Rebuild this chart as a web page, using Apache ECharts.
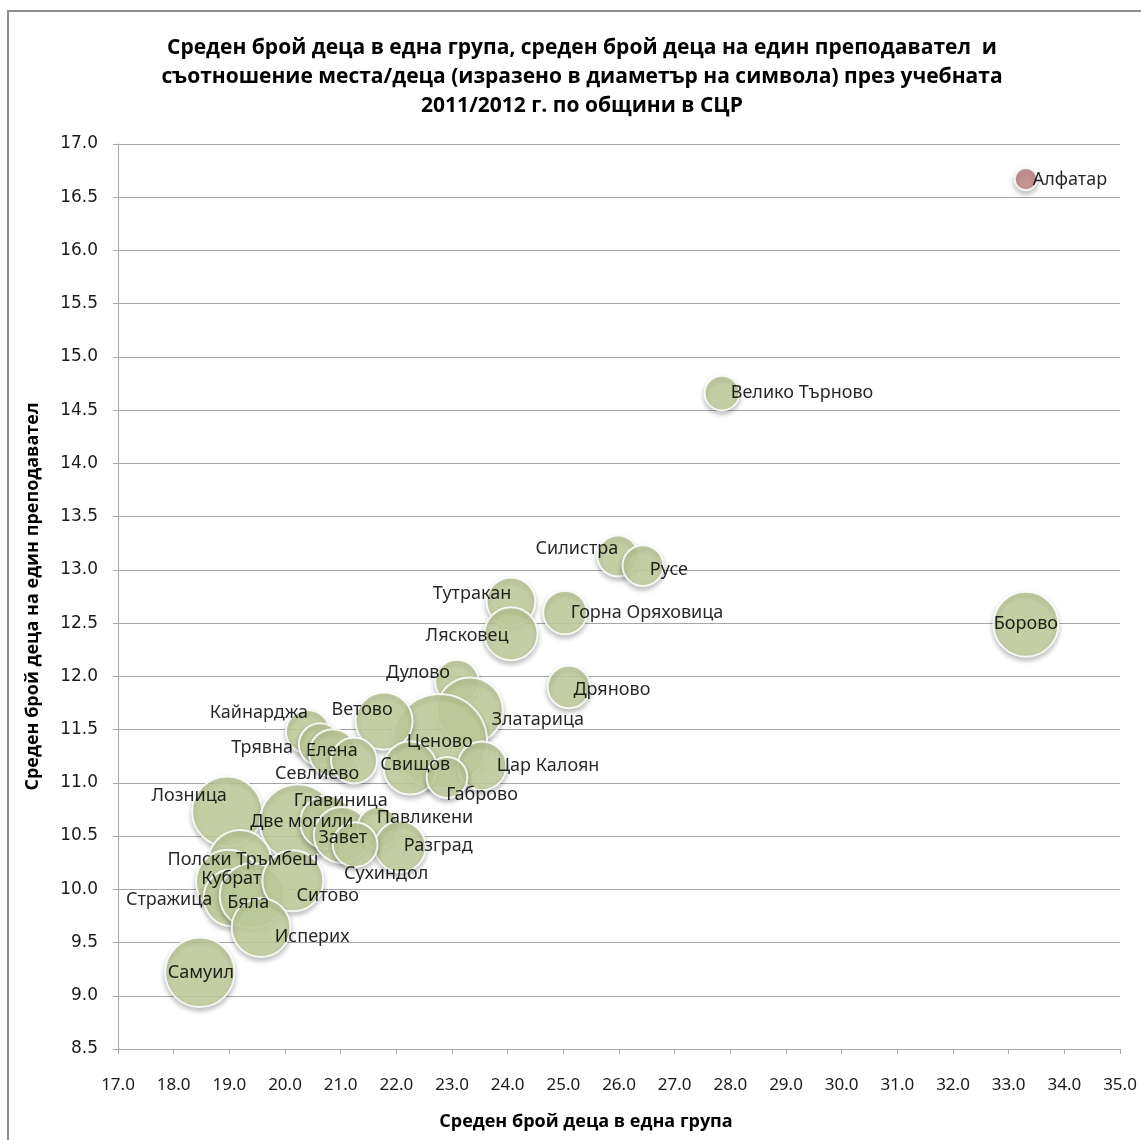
<!DOCTYPE html>
<html>
<head>
<meta charset="utf-8">
<script src="https://cdn.jsdelivr.net/npm/echarts@6/dist/echarts.min.js"></script>
<style>html,body{margin:0;padding:0;background:#fff;}#c{width:1141px;height:1140px;}</style>
</head>
<body>
<div id="c"></div>
<script>
// ---- data ----
const names = ['Алфатар','Велико Търново','Силистра','Русе','Борово','Тутракан','Лясковец','Горна Оряховица','Дулово','Дряново','Златарица','Ценово','Ветово','Свищов','Цар Калоян','Габрово','Кайнарджа','Трявна','Елена','Севлиево','Лозница','Две могили','Главиница','Завет','Павликени','Разград','Сухиндол','Полски Тръмбеш','Кубрат','Стражица','Бяла','Ситово','Исперих','Самуил'];
const childrenPerGroup = [33.31,27.85,25.98,26.43,33.31,24.06,24.06,25.03,23.09,25.10,23.32,22.78,21.78,22.25,23.54,22.91,20.41,20.63,20.86,21.24,18.96,20.23,20.75,21.02,21.67,22.07,21.26,19.19,18.98,19.05,19.41,20.14,19.57,18.47];
const childrenPerTeacher = [16.67,14.66,13.13,13.04,12.49,12.70,12.40,12.60,11.95,11.90,11.68,11.39,11.58,11.14,11.16,11.05,11.48,11.36,11.28,11.21,10.73,10.63,10.63,10.51,10.58,10.40,10.42,10.26,10.07,9.92,9.94,10.08,9.64,9.22];
const placesPerChild = [0.40,0.62,0.73,0.73,1.16,0.87,0.95,0.78,0.78,0.76,1.18,1.69,1.02,0.95,0.87,0.73,0.78,0.76,0.85,0.82,1.25,1.36,0.95,1.00,0.73,0.91,0.80,1.13,1.15,1.02,1.16,1.09,1.05,1.24];
const xTicks = {min:17, max:35, interval:1};
const yTicks = {min:8.5, max:17, interval:0.5};

// ---- styling (label placement offsets in px) ----
const labelOffsets = [[44,1],[80,0],[-41,-7],[26,4],[0,0],[-39,-8],[-44,2],[82,0],[-39,-9],[43,3],[68,9],[0,1],[-22,-11],[5,-3],[66,0],[35,17],[-49,-19],[-58,3],[-1,-2],[-37,13],[-38,-16],[4,0],[14,-21],[1,3],[47,-10],[38,-1],[31,29],[3,-2],[3,-3],[-63,2],[-4,7],[35,15],[51,9],[1,1]];
const sizeScale = 56;
const green = '#c3d09f', pink = '#c38a8b';

const data = names.map((n,i)=>({
  name:n,
  value:[childrenPerGroup[i], childrenPerTeacher[i], placesPerChild[i]],
  itemStyle:{color: n==='Алфатар' ? pink : green},
  label:{offset: labelOffsets[i]}
}));

const chart = echarts.init(document.getElementById('c'));
chart.setOption({
  animation:false,
  backgroundColor:'#fff',
  grid:{left:118, right:21, top:144, bottom:91, containLabel:false},
  graphic:[
    {type:'rect', shape:{x:8,y:11,width:1300,height:1300}, style:{fill:'none', stroke:'#8c8c8c', lineWidth:2}, z:-1},
    {type:'text', x:582, y:34, style:{text:'Среден брой деца в една група, среден брой деца на един преподавател  и\nсъотношение места/деца (изразено в диаметър на символа) през учебната\n2011/2012 г. по общини в СЦР', textAlign:'center', textVerticalAlign:'top', font:'bold 21px "Open Sans"', lineHeight:29, fill:'#000'}}
  ],
  xAxis:{
    type:'value', min:xTicks.min, max:xTicks.max, interval:xTicks.interval,
    name:'Среден брой деца в една група', nameLocation:'middle', nameGap:64,
    nameTextStyle:{fontFamily:'Open Sans', fontWeight:'bold', fontSize:18, color:'#000', padding:[0,66,0,0]},
    axisLine:{show:true, lineStyle:{color:'#a6a6a6', width:1}},
    axisTick:{show:true, length:5, lineStyle:{color:'#a6a6a6'}},
    axisLabel:{margin:28, fontFamily:'Noto Sans', fontSize:17, color:'#1a1a1a', formatter:v=>v.toFixed(1)},
    splitLine:{show:false}
  },
  yAxis:{
    type:'value', min:yTicks.min, max:yTicks.max, interval:yTicks.interval,
    name:'Среден брой деца на един преподавател', nameLocation:'middle', nameGap:76, nameRotate:90,
    nameTextStyle:{fontFamily:'Open Sans', fontWeight:'bold', fontSize:18, color:'#000'},
    axisLine:{show:true, lineStyle:{color:'#a6a6a6', width:1}},
    axisTick:{show:true, length:5, lineStyle:{color:'#a6a6a6'}},
    axisLabel:{margin:20, fontFamily:'DejaVu Sans', fontSize:17, color:'#1a1a1a', formatter:v=>v.toFixed(1)},
    splitLine:{show:true, lineStyle:{color:'#a6a6a6', width:1}}
  },
  series:[{
    type:'scatter',
    data:data,
    symbolSize:v=>v[2]*sizeScale,
    itemStyle:{opacity:0.85, borderColor:'#ffffff', borderWidth:2, shadowBlur:5, shadowOffsetY:3, shadowColor:'rgba(0,0,0,0.28)'},
    label:{show:true, position:'inside', formatter:p=>p.name, fontFamily:'Noto Sans', fontSize:18, color:'#000'},
    emphasis:{disabled:true}
  }]
});
</script>
</body>
</html>
